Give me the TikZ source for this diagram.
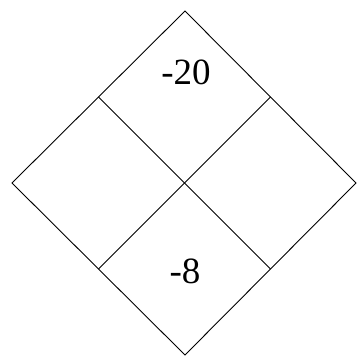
\documentclass[tikz,border=0pt]{standalone}
\usepackage{fontspec}
\setmainfont{Liberation Serif}
\usetikzlibrary{calc}
\begin{document}
\begin{tikzpicture}[x=1pt,y=1pt,
  edge/.style={draw=black,line width=0.9pt},
  val/.style={font=\fontsize{37}{42}\selectfont,inner sep=0pt}]
\useasboundingbox (0,0) rectangle (357,356);
\coordinate (T) at (185,345);
\coordinate (L) at (12,173);
\coordinate (R) at (356,173);
\coordinate (B) at (185,1);
\coordinate (TL) at ($(T)!0.5!(L)$);
\coordinate (TR) at ($(T)!0.5!(R)$);
\coordinate (BL) at ($(B)!0.5!(L)$);
\coordinate (BR) at ($(B)!0.5!(R)$);
\draw[edge] (T) -- (R) -- (B) -- (L) -- cycle;
\draw[edge] (TL) -- (BR);
\draw[edge] (TR) -- (BL);
\node[val] (top) at (186,284) {-20};
\node[val] (bot) at (185,85) {-8};
\end{tikzpicture}
\end{document}
